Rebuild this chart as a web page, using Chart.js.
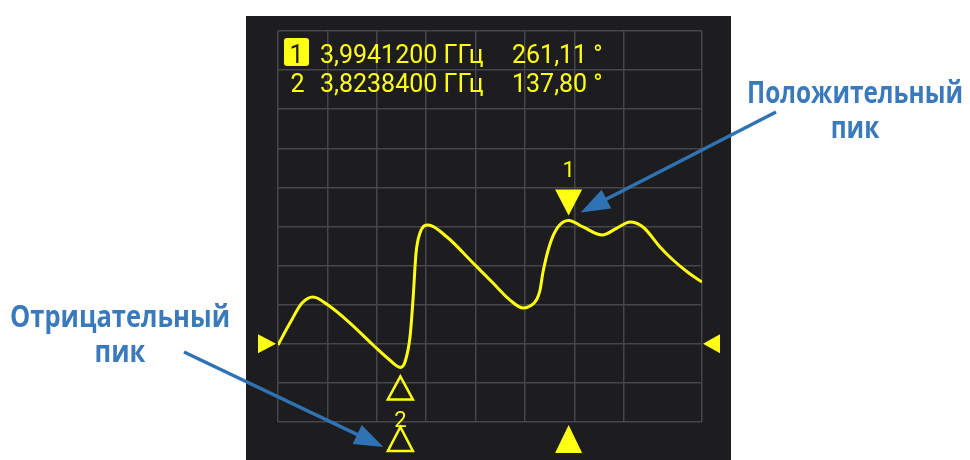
<!DOCTYPE html>
<html><head><meta charset="utf-8">
<script src="https://cdn.jsdelivr.net/npm/chart.js@4.4.1/dist/chart.umd.min.js"></script>
<style>html,body{margin:0;padding:0;background:#fff;}#wrap{width:970px;height:460px;position:relative;}</style>
</head><body><div id="wrap"><canvas id="c" width="970" height="460"></canvas></div>
<script>
// Frequency axis (GHz) and phase axis (degrees)
const startFreq = 3.7, stopFreq = 4.1291, freqStep = 0.05;
const phaseMin = 92, phaseMax = 420, phaseStep = 32.8;
const refLevel = 157.6;

// Trace: phase vs frequency
const freqGHz = [3.7000, 3.7121, 3.7243, 3.7354, 3.7506, 3.7729, 3.7962, 3.8113, 3.82384, 3.8285, 3.8336, 3.8366, 3.8397, 3.8437, 3.8518, 3.8710, 3.8974, 3.9166, 3.9348, 3.9480, 3.9551, 3.9621, 3.9652, 3.9682, 3.9753, 3.9834, 3.99412, 4.0087, 4.0279, 4.0431, 4.0563, 4.0694, 4.0866, 4.0998, 4.1150, 4.1291];
const phaseDeg = [156.6, 175.0, 191.8, 196.9, 190.1, 175.0, 156.6, 145.3, 137.80, 142.3, 163.3, 194.3, 233.8, 250.5, 257.3, 247.2, 225.4, 209.4, 194.3, 187.6, 189.3, 195.2, 202.7, 217.8, 241.3, 255.6, 261.11, 255.6, 248.9, 254.7, 259.8, 255.6, 238.8, 227.9, 217.4, 209.4];

// Markers
const markerIds = ['1', '2'];
const markerFreq = [3.99412, 3.82384];
const markerPhase = [261.11, 137.80];
const markerKind = ['max', 'min'];

// Callout texts
const posLabel = ['Положительный', 'пик'];
const negLabel = ['Отрицательный', 'пик'];

const YEL = '#ffff14';
const BLUE_T = '#3a79bb';
const BLUE_A = '#2f73b4';
const PANEL = '#1d1d1f';

function fmt(v, d){ return v.toFixed(d).replace('.', ','); }

const bgPlugin = {
  id: 'bg',
  beforeDraw(chart){
    const c = chart.ctx;
    c.save();
    c.fillStyle = PANEL;
    c.fillRect(246, 16, 485, 444);
    c.restore();
  }
};

function tri(c, pts, fill, lw){
  c.beginPath();
  c.moveTo(pts[0][0], pts[0][1]);
  c.lineTo(pts[1][0], pts[1][1]);
  c.lineTo(pts[2][0], pts[2][1]);
  c.closePath();
  if (fill) { c.fillStyle = YEL; c.fill(); }
  else { c.strokeStyle = YEL; c.lineWidth = lw || 2.5; c.lineJoin = 'miter'; c.stroke(); }
}

function arrow(c, x0, y0, x1, y1){
  const ang = Math.atan2(y1 - y0, x1 - x0);
  const L = 29, W = 10.5;
  const bx = x1 - L * Math.cos(ang), by = y1 - L * Math.sin(ang);
  c.strokeStyle = BLUE_A; c.lineWidth = 3.5; c.lineCap = 'butt';
  c.beginPath(); c.moveTo(x0, y0); c.lineTo(bx + 2*Math.cos(ang), by + 2*Math.sin(ang)); c.stroke();
  c.fillStyle = BLUE_A;
  c.beginPath();
  c.moveTo(x1, y1);
  c.lineTo(bx + W * Math.sin(ang), by - W * Math.cos(ang));
  c.lineTo(bx - W * Math.sin(ang), by + W * Math.cos(ang));
  c.closePath(); c.fill();
}

function label2(c, lines, cx, base1, base2, targetW){
  c.font = 'bold 30px "Open Sans"';
  c.fillStyle = BLUE_T;
  c.textAlign = 'center';
  c.textBaseline = 'alphabetic';
  const sx = targetW / c.measureText(lines[0]).width;
  c.save(); c.translate(cx, base1); c.scale(sx, 1); c.fillText(lines[0], 0, 0); c.restore();
  c.save(); c.translate(cx, base2); c.scale(sx, 1); c.fillText(lines[1], 0, 0); c.restore();
}

const overlay = {
  id: 'overlay',
  afterDatasetsDraw(chart){
    const c = chart.ctx, xs = chart.scales.x, ys = chart.scales.y;
    c.save();
    // reference level triangles
    const ry = ys.getPixelForValue(refLevel);
    tri(c, [[258, ry - 9.5], [258, ry + 9.5], [276, ry]], true);
    tri(c, [[720, ry - 9.5], [720, ry + 9.5], [703, ry]], true);

    // readout
    c.fillStyle = YEL;
    c.beginPath(); c.roundRect(284, 38, 25, 28, 3); c.fill();
    c.font = '25px Roboto';
    c.textBaseline = 'alphabetic';
    c.textAlign = 'center';
    c.fillStyle = PANEL;
    c.fillText(markerIds[0], 296.5, 63);
    c.fillStyle = YEL;
    c.fillText(markerIds[1], 297.5, 92);
    c.textAlign = 'left';
    const bases = [63, 92];
    for (let i = 0; i < markerIds.length; i++) {
      c.fillText(fmt(markerFreq[i], 7) + ' ГГц', 320, bases[i]);
      c.fillText(fmt(markerPhase[i], 2) + ' °', 512, bases[i]);
    }

    // markers on the trace and stimulus indicators
    const bot = chart.chartArea.bottom;
    for (let i = 0; i < markerIds.length; i++) {
      const px = xs.getPixelForValue(markerFreq[i]);
      const py = ys.getPixelForValue(markerPhase[i]);
      c.fillStyle = YEL;
      c.textAlign = 'center';
      c.font = '22px Roboto';
      if (markerKind[i] === 'max') {
        tri(c, [[px, py - 5], [px - 13.5, py - 31], [px + 13.5, py - 31]], true);
        c.fillStyle = YEL;
        c.fillText(markerIds[i], px, py - 43);
        tri(c, [[px, bot + 3], [px - 13.5, bot + 31], [px + 13.5, bot + 31]], true);
      } else {
        tri(c, [[px, py + 9], [px - 12.5, py + 32], [px + 12.5, py + 32]], false, 2.5);
        c.fillStyle = YEL;
        c.fillText(markerIds[i], px, py + 60);
        tri(c, [[px, bot + 5], [px - 12.5, bot + 29], [px + 12.5, bot + 29]], false, 2.5);
      }
    }

    // callouts
    const m1x = xs.getPixelForValue(markerFreq[0]), m1y = ys.getPixelForValue(markerPhase[0]);
    const m2x = xs.getPixelForValue(markerFreq[1]);
    label2(c, posLabel, 855, 103, 138, 216);
    label2(c, negLabel, 120, 327, 362, 220);
    arrow(c, 776, 112, m1x + 12, m1y - 8);
    arrow(c, 184, 352, m2x - 17, bot + 25);
    c.restore();
  }
};

const gridOpt = { color: '#474749', lineWidth: 1.5, drawTicks: false };

new Chart(document.getElementById('c'), {
  type: 'line',
  data: {
    datasets: [{
      data: freqGHz.map((f, i) => ({ x: f, y: phaseDeg[i] })),
      borderColor: YEL,
      borderWidth: 3,
      pointRadius: 0,
      cubicInterpolationMode: 'monotone',
      fill: false
    }]
  },
  options: {
    responsive: false,
    animation: false,
    devicePixelRatio: 1,
    layout: { padding: { left: 278, right: 268, top: 31, bottom: 38 } },
    plugins: { legend: { display: false }, tooltip: { enabled: false } },
    scales: {
      x: { type: 'linear', min: startFreq, max: stopFreq,
           ticks: { display: false, stepSize: freqStep }, grid: gridOpt, border: { display: false } },
      y: { type: 'linear', min: phaseMin, max: phaseMax,
           ticks: { display: false, stepSize: phaseStep }, grid: gridOpt, border: { display: false } }
    }
  },
  plugins: [bgPlugin, overlay]
});
</script></body></html>
